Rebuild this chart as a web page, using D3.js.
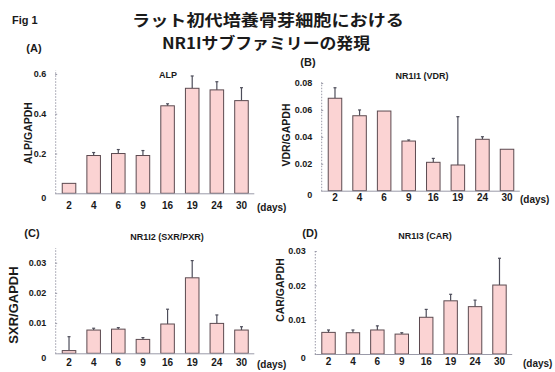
<!DOCTYPE html>
<html lang="ja">
  <head>
    <meta charset="UTF-8" />
    <title>Fig 1</title>
    <style>
      body {
        margin: 0;
        overflow: hidden;
        background: #fff;
      }
      text {
        font-family: "Liberation Sans", Arial, sans-serif;
        font-weight: bold;
        fill: #1a1a1a;
      }
      .jp {
        font-family: "Noto Sans CJK JP", sans-serif;
      }
      .bar {
        fill: #fbd3d3;
        stroke: #5c4a50;
        stroke-width: 1;
      }
      .err {
        stroke: #4d4d5a;
        stroke-width: 1.2;
      }
      .yaxis .domain {
        stroke: #9a9aa8;
        stroke-dasharray: 1.5 1.5;
      }
      .xaxis .domain {
        stroke: #9a9aa8;
      }
      .tick line {
        stroke: #9a9aa8;
      }
    </style>
    <script src="https://unpkg.com/d3@7.8.1/dist/d3.min.js"></script>
  </head>
  <body>
    <script>
      const { select, scaleBand, scaleLinear, axisLeft, axisBottom } = d3;

//Data
      const days = ["2", "4", "6", "9", "16", "19", "24", "30"];

      const alpMean = [0.05, 0.19, 0.20, 0.19, 0.44, 0.528, 0.52, 0.466];
      const alpUpper = [0.05, 0.205, 0.22, 0.215, 0.45, 0.59, 0.561, 0.531];
      const alpTicks = [0, 0.2, 0.4, 0.6];

      const vdrMean = [0.0687, 0.0557, 0.0592, 0.0369, 0.0211, 0.0191, 0.0382, 0.0308];
      const vdrUpper = [0.0765, 0.060, 0.0592, 0.0377, 0.024, 0.055, 0.0401, 0.0308];
      const vdrTicks = [0, 0.02, 0.04, 0.06, 0.08];

      const sxrMean = [0.0009, 0.0077, 0.008, 0.0046, 0.0097, 0.025, 0.0099, 0.0077];
      const sxrUpper = [0.0055, 0.0083, 0.0085, 0.0052, 0.0146, 0.0307, 0.0127, 0.0088];
      const sxrTicks = [0, 0.01, 0.02, 0.03];

      const carMean = [0.0063, 0.0062, 0.007, 0.0058, 0.0107, 0.0155, 0.0138, 0.0201];
      const carUpper = [0.007, 0.007, 0.0082, 0.0062, 0.013, 0.0174, 0.0157, 0.0279];
      const carTicks = [0, 0.01, 0.02, 0.03];

//Layout
      const width = 555;
      const height = 372;

      const svg = select("body")
        .append("svg")
        .attr("width", width)
        .attr("height", height);

      // header
      svg.append("text").attr("x", 12).attr("y", 24)
        .style("font-size", "11px").text("Fig 1");
      svg.append("text").attr("class", "jp").attr("x", 132).attr("y", 26)
        .attr("textLength", 272).attr("lengthAdjust", "spacingAndGlyphs")
        .style("font-size", "15.5px")
        .text("ラット初代培養骨芽細胞における");
      svg.append("text").attr("class", "jp").attr("x", 162).attr("y", 49)
        .attr("textLength", 208).attr("lengthAdjust", "spacingAndGlyphs")
        .style("font-size", "15.5px")
        .text("NR1Iサブファミリーの発現");

      const panels = [
        {
          mean: alpMean, upper: alpUpper, ticks: alpTicks, fmt: d3.format(".1f"),
          yTop: 0.62, x0: 56.7, x1: 253.8, base: 193.3, top: 70,
          letter: "(A)", lx: 34, ly: 52, title: "ALP", tx: 168, ty: 78,
          ylab: "ALP/GAPDH", yx: 32, yy: 133, ylabSize: 10.5,
          daysY: 211, daysX: 257
        },
        {
          mean: vdrMean, upper: vdrUpper, ticks: vdrTicks, fmt: d3.format(".2f"),
          yTop: 0.081, x0: 322.7, x1: 519.3, base: 190.7, top: 81.7,
          letter: "(B)", lx: 308, ly: 66, title: "NR1I1 (VDR)", tx: 422, ty: 79,
          ylab: "VDR/GAPDH", yx: 290, yy: 135, ylabSize: 10.5,
          daysY: 203, daysX: 520
        },
        {
          mean: sxrMean, upper: sxrUpper, ticks: sxrTicks, fmt: d3.format(".2f"),
          yTop: 0.035, x0: 56.7, x1: 253.8, base: 353.3, top: 247.6,
          letter: "(C)", lx: 32, ly: 237, title: "NR1I2 (SXR/PXR)", tx: 167, ty: 240,
          ylab: "SXR/GAPDH", yx: 18, yy: 305, ylabSize: 13,
          daysY: 368, daysX: 257
        },
        {
          mean: carMean, upper: carUpper, ticks: carTicks, fmt: d3.format(".2f"),
          yTop: 0.0306, x0: 316.3, x1: 511.7, base: 354, top: 249,
          letter: "(D)", lx: 310, ly: 237, title: "NR1I3 (CAR)", tx: 425, ty: 239,
          ylab: "CAR/GAPDH", yx: 284, yy: 290, ylabSize: 10.5,
          daysY: 367, daysX: 523
        }
      ];

//Generic
      const drawPanel = (p) => {
        const x = scaleBand()
          .domain(days)
          .range([p.x0, p.x1])
          .paddingInner(0.45)
          .paddingOuter(0.225);

        const y = scaleLinear()
          .domain([0, p.yTop])
          .range([p.base, p.top]);

        const rows = days.map((d, i) => ({ day: d, mean: p.mean[i], upper: p.upper[i] }));

        const g = svg.append("g");

        // error bars (upper only, with small cap)
        const errs = g.selectAll(".errg").data(rows.filter(d => d.upper > d.mean)).enter().append("g");
        errs.append("line").attr("class", "err")
          .attr("x1", d => x(d.day) + x.bandwidth() / 2)
          .attr("x2", d => x(d.day) + x.bandwidth() / 2)
          .attr("y1", d => y(d.mean))
          .attr("y2", d => y(d.upper));
        errs.append("line").attr("class", "err")
          .attr("x1", d => x(d.day) + x.bandwidth() / 2 - 1.5)
          .attr("x2", d => x(d.day) + x.bandwidth() / 2 + 1.5)
          .attr("y1", d => y(d.upper))
          .attr("y2", d => y(d.upper));

        g.selectAll("rect")
          .data(rows)
          .enter()
          .append("rect")
          .attr("class", "bar")
          .attr("x", d => x(d.day))
          .attr("y", d => y(d.mean))
          .attr("width", x.bandwidth())
          .attr("height", d => p.base - y(d.mean));

        g.append("g")
          .attr("class", "yaxis")
          .attr("transform", `translate(${p.x0 - 1.5}, 0)`)
          .call(axisLeft(y).tickValues(p.ticks).tickFormat(d => d === 0 ? "0" : p.fmt(d))
            .tickSize(-2).tickSizeOuter(0).tickPadding(9))
          .call(s => s.selectAll(".tick text").style("font-size", "9px"))
          .call(s => s.select(".tick:first-of-type text").attr("dy", "0.75em"));

        g.append("g")
          .attr("class", "xaxis")
          .attr("transform", `translate(0, ${p.base})`)
          .call(axisBottom(x).tickSize(0).tickSizeOuter(0).tickPadding(p.daysY - p.base - 9))
          .call(s => s.selectAll(".tick text").style("font-size", "10px"));

        g.append("text").attr("x", p.daysX).attr("y", p.daysY)
          .style("font-size", "10px").text("(days)");

        g.append("text").attr("x", p.lx).attr("y", p.ly)
          .attr("text-anchor", "middle").style("font-size", "11px").text(p.letter);

        g.append("text").attr("x", p.tx).attr("y", p.ty)
          .attr("text-anchor", "middle").style("font-size", "9px").text(p.title);

        g.append("text")
          .attr("transform", `translate(${p.yx}, ${p.yy}) rotate(-90)`)
          .attr("text-anchor", "middle")
          .style("font-size", p.ylabSize + "px")
          .text(p.ylab);
      };

      panels.forEach(drawPanel);
    </script>
  </body>
</html>
